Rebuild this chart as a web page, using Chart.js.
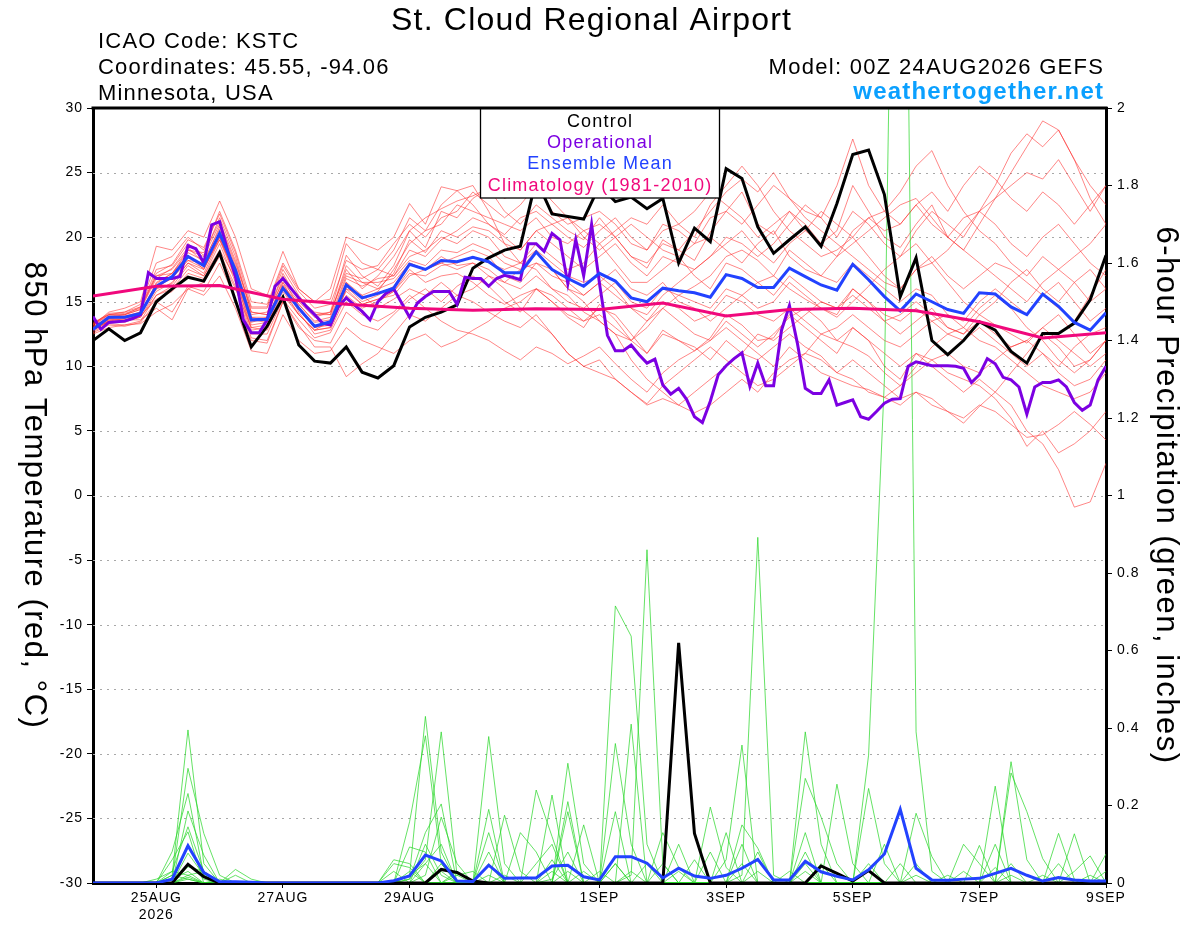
<!DOCTYPE html>
<html><head><meta charset="utf-8">
<script src="https://cdn.jsdelivr.net/npm/chart.js@4.4.1/dist/chart.umd.min.js"></script>
<style>html,body{margin:0;padding:0;background:#fff;}#wrap{width:1200px;height:927px;position:relative;}</style>
</head><body><div id="wrap"><canvas id="c" width="1200" height="927"></canvas></div>
<script>
const FONT = '"Liberation Sans", Arial, Helvetica, sans-serif';
const TITLE = 'St. Cloud Regional Airport';
const INFO_LINES = ['ICAO Code: KSTC', 'Coordinates: 45.55, -94.06', 'Minnesota, USA'];
const MODEL_LABEL = 'Model: 00Z 24AUG2026 GEFS';
const SITE_LABEL = 'weathertogether.net';
const LEGEND_LABELS = ['Control', 'Operational', 'Ensemble Mean', 'Climatology (1981-2010)'];
const Y_TITLE = '850 hPa Temperature (red, \u00B0C)';
const Y2_TITLE = '6-hour Precipitation (green, inches)';
const TICK_HOURS = [24, 72, 120, 192, 240, 288, 336, 384];
const TICK_LABELS = ['25AUG', '27AUG', '29AUG', '1SEP', '3SEP', '5SEP', '7SEP', '9SEP'];
const YEAR_LABEL = '2026';
const ENS_STEP_H = 6, OP_STEP_H = 3, CLIM_STEP_H = 24;

// Control run (black)
const CONTROL_T = [12.0,12.9,12.0,12.6,15.0,16.0,16.9,16.6,18.8,15.1,11.5,13.1,15.35,11.65,10.4,10.25,11.5,9.55,9.1,10.05,13.05,13.8,14.2,14.75,17.6,18.4,19.0,19.3,24.5,21.8,21.6,21.4,24.0,22.75,23.1,22.2,23.0,18.0,20.7,19.65,25.3,24.55,20.8,18.75,19.8,20.8,19.3,22.6,26.4,26.75,23.3,15.4,18.4,12.0,10.9,12.0,13.45,12.8,11.15,10.25,12.55,12.55,13.35,15.15,18.6];
const CONTROL_P = [0,0,0,0,0,0,0.048,0.016,0,0,0,0,0,0,0,0,0,0,0,0,0,0,0.035,0.027,0.005,0,0,0,0,0,0,0,0,0,0,0,0,0.62,0.128,0,0,0,0,0,0,0,0.044,0.025,0.005,0.032,0,0,0,0,0,0,0,0,0,0,0,0,0,0,0];
// Ensemble mean (blue)
const MEAN_T = [12.85,13.8,13.8,14.1,16.2,16.95,18.5,17.8,20.3,17.45,13.6,13.65,16.05,14.5,13.1,13.45,16.3,15.3,15.65,16.05,17.9,17.5,18.2,18.1,18.45,18.1,17.25,17.25,18.85,17.5,16.8,16.2,17.2,16.6,15.3,15.0,16.05,15.85,15.7,15.35,17.1,16.8,16.1,16.1,17.6,16.95,16.3,15.9,17.9,16.7,15.4,14.3,15.6,15.0,14.4,14.1,15.7,15.6,14.6,14.0,15.6,14.65,13.4,12.8,14.15];
const MEAN_P = [0,0,0,0,0,0.01,0.096,0.027,0.003,0.003,0.002,0,0,0,0,0,0,0,0,0.006,0.018,0.072,0.057,0.005,0.004,0.046,0.012,0.013,0.013,0.044,0.046,0.016,0.008,0.068,0.068,0.051,0.013,0.038,0.018,0.012,0.02,0.038,0.061,0.008,0.008,0.056,0.029,0.017,0.008,0.034,0.075,0.19,0.038,0.008,0.007,0.01,0.012,0.025,0.038,0.02,0.005,0.014,0.008,0.005,0.005];
// Operational run (purple, 3-hourly)
const OPER_T = [13.85,12.87,13.4,13.45,13.5,13.7,14.0,17.25,16.8,16.8,16.8,16.95,19.35,19.1,18.0,20.95,21.2,19.0,16.95,13.6,12.6,12.6,13.6,16.2,16.8,16.05,15.3,14.6,14.0,13.35,13.2,14.6,15.3,14.75,14.25,13.6,15.0,15.65,16.0,14.9,13.8,14.9,15.4,15.8,15.8,15.8,14.8,16.9,16.8,16.8,16.2,16.8,17.05,16.9,16.7,19.5,19.5,18.9,20.3,19.8,16.4,19.8,17.0,21.0,16.4,12.4,11.2,11.2,11.65,10.9,10.25,10.55,8.55,7.85,8.3,7.45,6.1,5.65,7.3,9.35,10.05,10.6,11.05,8.45,10.25,8.5,8.5,12.8,14.7,11.8,8.3,7.9,7.9,8.95,7.0,7.2,7.4,6.1,5.9,6.5,7.15,7.45,7.5,10.0,10.35,10.2,10.05,10.05,10.05,10.0,9.85,8.75,9.35,10.6,10.2,9.15,8.95,8.4,6.3,8.4,8.75,8.75,8.95,8.4,7.2,6.6,7.0,8.95,10.0];
// Climatology (pink, daily)
const CLIMATOLOGY = [15.45,16.2,16.25,15.2,14.8,14.5,14.35,14.45,14.4,14.9,13.9,14.4,14.5,14.3,13.45,12.2,12.6];

// Ensemble member 850 hPa temperatures (thin red)
const MEMBER_T_01 = [13.2,13.9,14.0,14.6,17.5,17.8,19.5,18.6,21.5,18.5,14.2,14.0,17.2,15.1,14.0,14.2,18.6,17.0,16.2,17.8,20.5,19.2,22.0,21.5,23.0,23.8,22.0,21.0,22.5,21.5,20.5,19.8,21.5,20.0,18.5,17.6,19.8,19.0,18.2,20.4,22.0,23.5,21.0,20.2,22.0,21.0,19.5,20.5,24.0,22.0,20.0,19.2,21.0,22.5,20.0,19.0,21.0,23.0,25.0,27.0,29.0,28.3,26.0,24.0,22.5];
const MEMBER_T_02 = [12.6,13.2,13.1,13.4,15.0,14.2,16.2,15.8,18.0,15.2,12.0,11.8,15.0,13.0,12.0,11.8,14.2,13.2,12.8,14.0,15.2,16.0,15.0,16.2,17.0,16.2,15.0,14.2,16.0,15.0,13.8,13.0,14.8,13.6,12.0,11.0,12.8,12.0,11.2,12.2,14.0,13.2,12.0,12.2,14.0,13.0,12.0,11.0,13.0,12.0,10.0,9.0,11.0,10.0,9.0,8.0,9.0,8.0,7.0,5.0,4.0,2.0,-0.9,-0.5,2.5];
const MEMBER_T_03 = [13.0,13.8,13.9,14.2,16.0,17.0,18.2,18.0,20.2,17.2,13.5,13.6,16.0,14.5,13.0,13.4,16.5,15.2,15.8,17.5,19.5,20.5,22.5,23.6,24.0,22.0,19.5,18.0,17.5,16.0,15.5,14.2,13.5,12.5,12.0,13.0,14.5,15.5,16.2,17.0,18.5,19.0,18.2,17.0,16.0,15.2,14.5,13.8,15.0,16.2,17.5,18.5,19.5,18.0,16.5,15.0,14.0,13.2,12.5,11.8,13.0,14.0,12.5,11.0,12.0];
const MEMBER_T_04 = [12.8,13.5,13.5,13.8,15.5,16.0,17.5,17.0,19.5,16.5,12.5,12.5,15.2,13.6,12.2,12.6,15.0,14.0,13.5,14.2,15.5,14.5,13.5,12.8,12.5,12.0,11.2,10.5,11.5,11.0,10.2,10.8,11.5,10.2,9.0,8.0,9.5,10.5,11.2,12.0,13.5,12.5,11.5,12.5,13.8,14.5,13.5,12.0,11.5,10.8,9.5,8.5,10.0,11.5,12.5,13.0,14.5,15.5,14.5,13.0,12.0,10.5,9.5,10.5,12.0];
const MEMBER_T_05 = [13.4,14.0,14.2,14.6,17.0,17.5,19.0,18.5,21.0,18.0,14.5,14.5,17.5,15.5,14.0,14.0,17.5,16.0,17.0,18.5,20.5,21.5,22.2,22.8,23.2,23.8,23.0,23.5,24.2,22.8,21.5,20.5,19.5,20.5,21.5,21.0,22.5,21.0,20.0,22.5,24.0,25.5,24.0,22.0,20.5,19.5,18.5,19.0,20.0,18.5,17.0,16.0,17.5,18.5,17.0,16.0,17.0,18.0,17.5,16.5,15.5,14.5,13.5,15.5,17.5];
const MEMBER_T_06 = [13.0,13.4,13.6,13.6,14.5,13.6,16.0,16.5,18.5,16.0,13.0,12.8,15.5,14.0,12.8,13.0,16.0,15.5,14.5,15.2,16.0,15.5,16.5,15.5,15.0,14.2,13.5,13.0,14.0,12.5,11.0,10.0,10.5,9.0,8.0,7.0,7.5,7.0,6.4,7.0,8.0,9.0,8.0,9.5,10.5,11.0,12.5,13.0,14.0,13.0,12.0,11.5,12.5,13.5,14.0,13.0,12.0,11.5,10.5,9.5,8.5,8.0,7.5,8.0,9.5];
const MEMBER_T_07 = [13.1,13.7,13.8,14.0,16.5,17.2,18.8,18.2,20.6,17.6,13.8,13.8,16.2,14.8,13.4,13.6,16.8,16.2,16.8,17.0,19.0,18.5,19.8,20.5,21.5,21.0,20.2,21.5,22.0,21.0,20.0,19.2,20.5,21.5,20.0,19.0,21.0,20.5,19.5,21.5,22.0,21.0,22.5,24.0,23.0,22.0,21.5,24.0,27.6,24.0,22.0,23.5,25.5,26.7,24.0,22.0,20.5,19.5,18.0,17.0,18.5,17.5,16.5,15.0,16.0];
const MEMBER_T_08 = [12.7,13.3,13.2,13.5,15.5,16.2,17.8,17.0,19.0,16.8,12.8,13.0,16.5,14.2,12.5,12.8,15.5,14.5,15.0,15.8,17.5,16.5,17.0,17.2,16.5,15.5,14.8,15.5,16.0,15.0,14.0,13.5,14.5,14.0,12.5,11.0,12.5,12.0,11.5,10.5,12.0,11.0,10.5,11.5,12.5,11.5,10.8,9.5,10.5,9.5,8.5,7.5,8.0,7.0,6.5,5.6,6.9,8.0,9.5,11.0,12.5,11.5,10.0,10.5,12.0];
const MEMBER_T_09 = [13.3,14.1,14.2,14.8,18.0,18.5,20.0,19.0,22.0,19.0,15.0,14.8,18.0,16.0,15.0,15.2,19.5,18.0,17.5,19.0,21.5,20.5,21.0,22.5,22.0,21.5,21.0,20.5,21.5,20.0,19.5,20.5,21.0,20.0,18.5,18.0,19.5,19.0,20.5,22.0,23.5,24.5,23.5,25.0,23.0,21.5,20.5,19.5,18.5,17.5,16.5,16.0,17.5,18.0,19.0,20.5,22.0,21.0,19.5,18.5,20.0,21.0,19.5,18.0,17.0];
const MEMBER_T_10 = [12.9,13.5,13.4,13.9,15.2,15.8,17.2,16.8,18.8,16.2,12.2,12.0,15.0,13.2,11.5,11.5,9.2,10.2,11.0,12.5,14.0,13.5,14.5,15.5,16.0,17.0,16.5,17.5,18.0,17.0,16.5,15.5,16.5,17.5,16.0,15.5,16.5,15.0,14.5,13.5,14.5,15.5,16.5,15.5,17.0,16.0,15.0,14.5,16.0,15.0,13.5,12.5,13.5,14.5,13.0,12.5,14.0,15.0,16.5,17.5,16.0,15.0,16.5,17.5,16.0];
const MEMBER_T_11 = [13.2,14.2,14.5,15.0,19.3,19.0,20.5,20.0,22.8,20.0,16.0,15.5,18.9,16.0,15.0,16.0,20.0,19.5,19.0,20.0,22.6,21.0,23.9,23.6,22.5,21.0,20.0,19.0,20.5,19.5,18.5,17.5,18.5,19.5,18.0,17.0,18.5,18.0,17.5,18.5,19.5,20.5,19.0,18.0,19.5,20.5,22.0,21.0,20.0,21.5,22.0,21.0,22.5,21.0,20.0,21.5,22.0,23.0,24.0,25.0,24.5,26.0,24.0,22.0,24.0];
const MEMBER_T_12 = [12.8,13.4,13.5,13.8,15.8,16.5,18.0,17.5,20.0,17.0,13.2,13.4,16.0,14.0,12.8,13.0,16.0,14.8,15.2,15.5,17.0,17.5,18.5,17.8,18.0,17.0,16.0,14.5,13.5,12.5,11.0,10.0,9.5,9.0,8.0,7.1,8.5,9.5,10.5,11.5,10.5,9.5,8.5,9.0,10.0,11.0,10.5,9.5,9.0,8.0,7.6,7.0,8.0,7.5,6.5,6.0,7.0,6.5,5.5,4.5,4.7,5.5,6.5,5.5,4.3];
const MEMBER_T_13 = [13.1,13.8,14.0,14.4,16.8,17.6,19.2,18.0,20.8,17.8,14.0,14.2,16.5,15.0,13.8,14.2,17.2,16.8,17.5,17.0,18.5,19.0,20.0,19.5,20.5,20.0,18.5,18.0,19.5,18.5,17.5,18.0,19.5,18.0,16.5,16.5,17.5,18.5,17.0,16.0,18.0,17.5,16.5,17.0,19.0,18.0,17.0,16.5,18.0,17.0,16.0,15.0,16.0,15.5,14.0,13.5,15.0,16.0,15.0,14.0,15.5,16.5,15.0,13.5,14.5];
const MEMBER_T_14 = [12.5,13.0,13.2,13.3,14.2,14.8,16.0,15.5,17.0,14.5,11.2,11.0,14.0,12.0,11.0,11.2,13.0,12.0,11.5,11.0,12.0,12.5,11.5,12.0,12.8,13.5,14.5,15.0,16.0,15.5,14.5,13.5,14.0,13.0,12.0,13.5,14.5,13.5,12.5,12.0,13.0,12.0,11.0,10.0,11.5,10.5,9.5,9.0,8.5,8.2,7.6,8.5,9.5,10.5,11.0,10.0,9.5,10.5,11.5,12.0,11.0,10.0,11.5,12.5,13.0];
const MEMBER_T_15 = [13.0,13.6,13.7,14.1,16.2,16.8,18.5,17.8,20.4,17.5,13.8,13.5,16.8,14.6,13.2,13.2,16.2,15.0,15.5,16.2,18.0,17.5,18.0,18.5,19.0,18.5,17.0,16.5,18.0,17.5,16.0,15.5,16.5,15.5,14.5,14.0,15.5,16.5,17.5,18.5,20.0,19.5,18.5,19.5,21.0,22.5,21.5,20.0,22.0,21.0,19.5,18.5,20.5,22.0,21.0,20.0,22.0,24.0,26.5,28.0,27.0,28.3,26.0,23.0,21.0];
const MEMBER_T_16 = [12.9,13.6,13.6,14.0,16.0,16.4,18.0,17.2,19.8,16.8,13.0,13.2,15.8,14.0,12.8,13.5,15.8,14.8,15.2,15.8,17.2,17.0,17.8,18.0,18.5,18.0,17.5,18.0,19.0,18.0,17.0,16.5,17.0,16.0,14.5,13.5,15.0,14.5,13.5,14.0,15.5,15.0,14.0,13.5,14.5,13.5,12.5,12.0,13.0,12.0,11.0,10.0,11.0,10.5,9.5,9.0,8.5,7.5,6.0,3.8,5.0,3.3,4.0,5.0,6.5];
const MEMBER_T_17 = [13.2,14.0,14.1,14.5,17.2,17.9,19.8,19.2,21.8,18.8,14.6,14.6,17.8,15.8,14.5,14.8,18.2,17.5,17.8,19.5,21.0,20.0,21.5,22.0,23.5,22.5,21.5,22.5,24.0,22.0,21.0,21.5,22.0,21.0,19.5,19.0,20.5,21.0,22.0,23.5,22.5,21.5,20.0,21.0,22.0,20.5,19.5,18.5,19.5,20.5,21.5,22.5,23.0,21.5,20.0,19.0,18.0,17.0,16.0,15.0,16.5,17.5,18.5,19.5,21.0];
const MEMBER_T_18 = [13.0,13.7,13.8,14.2,16.4,17.2,18.6,17.5,20.0,17.0,13.4,13.8,16.3,14.8,13.5,13.8,17.0,16.5,16.5,16.8,18.2,17.8,19.0,18.8,19.5,19.0,18.0,17.5,19.0,17.5,16.0,15.0,13.5,12.5,10.5,9.0,8.0,7.0,8.0,9.0,10.0,11.0,12.5,12.0,13.0,14.0,15.0,14.5,15.5,14.5,13.5,14.0,15.0,14.0,13.0,12.5,13.5,12.5,11.5,12.0,13.0,12.0,11.0,10.0,11.0];
const MEMBER_T_19 = [13.3,14.0,14.0,14.4,17.0,17.2,19.0,18.8,21.2,18.2,14.2,14.0,17.0,15.2,14.2,14.0,17.8,16.5,16.0,17.2,19.8,18.8,20.5,20.0,20.8,20.5,19.5,19.0,20.5,21.0,21.5,20.0,19.0,20.0,21.0,20.0,19.0,18.5,19.5,20.0,19.0,18.0,19.5,20.5,18.5,17.5,17.0,18.5,20.5,21.5,20.5,21.0,22.5,23.5,22.0,24.0,25.5,24.5,23.0,22.0,23.5,22.5,21.0,22.5,24.0];
const MEMBER_T_20 = [12.9,13.5,13.7,14.0,16.2,16.8,18.2,17.6,19.8,17.2,13.6,13.4,16.2,14.4,13.0,13.2,16.5,15.5,16.0,16.5,18.0,17.5,18.0,17.5,18.0,17.5,16.5,16.0,17.0,16.0,15.0,14.5,15.5,16.5,15.0,14.5,16.0,15.5,15.0,14.5,16.0,15.5,14.5,15.0,16.5,15.5,14.5,14.0,16.0,15.0,14.0,13.5,14.5,13.5,12.5,12.0,13.0,12.0,11.0,10.0,11.0,9.5,8.5,9.0,10.5];
const MEMBERS_T = [MEMBER_T_01,MEMBER_T_02,MEMBER_T_03,MEMBER_T_04,MEMBER_T_05,MEMBER_T_06,MEMBER_T_07,MEMBER_T_08,MEMBER_T_09,MEMBER_T_10,MEMBER_T_11,MEMBER_T_12,MEMBER_T_13,MEMBER_T_14,MEMBER_T_15,MEMBER_T_16,MEMBER_T_17,MEMBER_T_18,MEMBER_T_19,MEMBER_T_20];

// Ensemble member 6-hour precipitation (thin green)
const MEMBER_P_01 = [0,0,0,0,0,0,0.01,0, 0,0,0,0,0,0,0,0, 0,0,0,0,0,0.10,0.02,0, 0,0,0,0,0,0.06,0,0, 0,0.05,0,0,0,0,0,0, 0,0,0.08,0,0,0,0,0, 0,0.33,1.3,3.9,0.39,0.03,0,0, 0,0,0.05,0,0,0,0,0, 0];
const MEMBER_P_02 = [0,0,0,0,0,0.02,0.395,0.05, 0,0,0,0,0,0,0,0, 0,0,0,0,0.02,0.43,0.08,0, 0,0,0,0,0,0.01,0.08,0, 0,0,0.02,0.86,0.05,0,0,0, 0,0,0,0,0,0.05,0,0, 0,0,0,0,0,0,0,0, 0,0.1,0,0,0,0,0,0, 0];
const MEMBER_P_03 = [0,0,0,0,0,0.01,0.296,0.128, 0.02,0,0,0,0,0,0,0, 0,0,0,0,0.01,0.06,0.39,0.02, 0,0,0,0,0,0,0,0, 0,0.36,0.1,0,0,0,0,0, 0,0.02,0.892,0.02,0,0,0,0, 0,0,0,0,0,0,0,0, 0,0,0,0,0,0.128,0.01,0, 0];
const MEMBER_P_04 = [0,0,0,0,0,0.081,0.231,0.02, 0,0,0,0,0,0,0,0, 0,0,0,0,0.158,0.38,0.05,0, 0,0.13,0,0,0,0,0,0, 0,0.715,0.637,0.1,0,0,0,0, 0,0,0,0,0,0.39,0.1,0, 0,0,0,0,0,0,0,0, 0,0,0,0,0,0,0,0, 0];
const MEMBER_P_05 = [0,0,0,0,0,0,0.186,0.072, 0,0,0,0,0,0,0,0, 0,0,0,0,0.01,0.13,0.204,0, 0,0,0,0,0.24,0.12,0,0, 0,0,0,0,0,0,0,0, 0.06,0.356,0,0,0,0,0,0, 0,0,0,0,0,0,0,0, 0,0,0.313,0.06,0,0,0,0, 0];
const MEMBER_P_06 = [0,0,0,0,0.01,0.03,0.145,0.03, 0,0,0,0,0,0,0,0, 0,0,0,0,0,0.02,0.17,0.05, 0,0.378,0.05,0,0,0,0,0, 0,0,0.41,0,0,0,0,0, 0,0,0,0,0,0.27,0.17,0.05, 0,0,0,0,0,0,0,0, 0,0.25,0,0,0,0,0,0, 0];
const MEMBER_P_07 = [0,0,0,0,0,0.06,0.132,0, 0,0,0,0,0,0,0,0, 0,0,0,0,0.093,0.08,0,0, 0,0.19,0,0,0,0,0.309,0.05, 0,0,0,0,0,0,0,0.196, 0.04,0,0,0,0,0,0,0, 0,0,0,0,0.18,0.068,0,0, 0,0,0,0,0,0,0.127,0, 0];
const MEMBER_P_08 = [0,0,0,0,0,0,0.077,0.02, 0,0.035,0.01,0,0,0,0,0, 0,0,0,0.06,0.05,0,0,0, 0,0,0.175,0.03,0,0,0.21,0, 0,0,0,0,0,0,0,0, 0,0,0,0,0,0,0,0.255, 0.05,0,0,0,0,0,0,0, 0,0,0.284,0.184,0.063,0,0,0, 0];
const MEMBER_P_09 = [0,0,0,0,0,0,0.042,0.03, 0,0,0,0,0,0,0,0, 0,0,0,0,0,0.05,0.1,0, 0,0,0,0,0,0.227,0,0, 0,0,0,0,0,0.10,0,0, 0,0.15,0.09,0,0,0,0,0, 0,0.244,0.05,0,0,0,0,0, 0,0,0,0,0,0,0,0, 0.075];
const MEMBER_P_10 = [0,0,0,0,0,0.03,0.02,0, 0,0,0,0,0,0,0,0, 0,0,0,0.05,0.04,0,0,0, 0,0,0,0.13,0.08,0,0,0.15, 0,0.184,0,0,0,0,0,0, 0,0.1,0,0,0,0.13,0,0, 0,0,0,0,0,0,0,0.10, 0.05,0,0,0,0,0,0,0, 0];
const MEMBER_P_11 = [0,0,0,0,0,0,0.02,0.03, 0,0,0,0,0,0,0,0, 0,0,0,0,0.03,0,0.05,0, 0,0.08,0,0,0,0,0.184,0, 0,0,0,0,0.13,0.04,0,0, 0,0,0,0,0,0.08,0,0, 0,0,0.10,0,0,0,0,0, 0.097,0,0,0,0,0.05,0,0, 0];
const MEMBER_P_12 = [0,0,0,0,0,0.02,0.01,0, 0,0.02,0,0,0,0,0,0, 0,0,0,0.03,0,0,0,0.03, 0,0.05,0,0,0.05,0.1,0,0, 0,0,0,0.05,0,0,0,0.08, 0,0,0,0,0,0,0.05,0, 0,0,0,0,0,0,0,0.03, 0,0,0,0,0,0,0.03,0.07, 0];
const MEMBER_P_13 = [0,0,0,0,0,0,0.015,0, 0.01,0,0,0,0,0,0,0, 0,0,0,0,0,0,0,0.02, 0.03,0,0.02,0,0,0,0,0, 0.03,0,0,0,0,0,0.06,0, 0.13,0,0,0,0.03,0,0,0, 0,0,0,0.05,0,0,0.02,0, 0,0,0,0,0,0,0,0, 0.03];
const MEMBER_P_14 = [0,0,0,0,0,0,0.05,0.01, 0,0,0,0,0,0,0,0, 0,0,0,0,0.02,0.05,0,0, 0,0,0,0,0,0.03,0,0.03, 0,0.05,0,0,0.05,0,0,0, 0,0.05,0,0,0,0,0,0, 0,0.05,0,0,0.05,0,0,0, 0,0.04,0,0,0.02,0,0,0, 0];
const MEMBER_P_15 = [0,0,0,0,0,0.01,0.03,0, 0,0,0,0,0,0,0,0, 0,0,0,0,0,0,0.03,0, 0,0.02,0,0,0,0,0.03,0, 0,0,0.03,0,0,0.03,0,0, 0,0,0.03,0,0,0.03,0,0, 0,0,0,0,0.02,0,0,0, 0,0,0.02,0,0,0,0,0.02, 0];
const MEMBERS_P = [MEMBER_P_01,MEMBER_P_02,MEMBER_P_03,MEMBER_P_04,MEMBER_P_05,MEMBER_P_06,MEMBER_P_07,MEMBER_P_08,MEMBER_P_09,MEMBER_P_10,MEMBER_P_11,MEMBER_P_12,MEMBER_P_13,MEMBER_P_14,MEMBER_P_15];

const COL = {
  control: '#000000', oper: '#7c00e2', mean: '#2242ff', clim: '#f0087c',
  memberT: 'rgba(255,45,45,0.72)', memberP: 'rgba(40,215,40,0.9)', site: '#0aa0ff', grid: '#a8a8a8'
};

const pts = (arr, step) => arr.map((v, i) => ({ x: i * step, y: v }));
const line = (label, data, color, width, axis, order) => ({
  label, data, borderColor: color, backgroundColor: color, borderWidth: width,
  yAxisID: axis, order, pointRadius: 0, tension: 0, fill: false
});

const datasets = [
  line('Climatology (1981-2010)', pts(CLIMATOLOGY, CLIM_STEP_H), COL.clim, 3, 'y', 1),
  line('Ensemble Mean', pts(MEAN_T, ENS_STEP_H), COL.mean, 3, 'y', 2),
  line('Ensemble Mean precip', pts(MEAN_P, ENS_STEP_H), COL.mean, 3, 'y2', 2),
  line('Operational', pts(OPER_T, OP_STEP_H), COL.oper, 3, 'y', 3),
  line('Control', pts(CONTROL_T, ENS_STEP_H), COL.control, 3, 'y', 4),
  line('Control precip', pts(CONTROL_P, ENS_STEP_H), COL.control, 3, 'y2', 4)
];
MEMBERS_P.forEach((m, k) => datasets.push(line('Member precip ' + (k + 1), pts(m, ENS_STEP_H), COL.memberP, 0.8, 'y2', 9)));
MEMBERS_T.forEach((m, k) => datasets.push(line('Member T ' + (k + 1), pts(m, ENS_STEP_H), COL.memberT, 0.8, 'y', 10)));

function spacedText(ctx, text, x, y, font, color, align, spacing) {
  ctx.save();
  ctx.font = font; ctx.fillStyle = color; ctx.textAlign = align; ctx.textBaseline = 'alphabetic';
  ctx.letterSpacing = spacing + 'px';
  let dx = 0;
  if (align === 'right') dx = spacing;
  if (align === 'center') dx = spacing / 2;
  ctx.fillText(text, x + dx, y);
  ctx.restore();
}

const decor = {
  id: 'decor',
  beforeDraw(chart) {
    chart.ctx.letterSpacing = '1px';
  },
  beforeDatasetsDraw(chart) {
    const { ctx, chartArea: a, scales: { y } } = chart;
    ctx.save();
    ctx.strokeStyle = COL.grid; ctx.lineWidth = 1; ctx.setLineDash([2, 5]);
    y.ticks.forEach(t => {
      if (t.value <= y.min || t.value >= y.max) return;
      const py = Math.round(y.getPixelForValue(t.value)) + 0.5;
      ctx.beginPath(); ctx.moveTo(a.left, py); ctx.lineTo(a.right, py); ctx.stroke();
    });
    ctx.restore();
  },
  afterDatasetsDraw(chart) {
    const { ctx } = chart;
    const bx = 480, by = 108, bw = 239, bh = 90;
    ctx.save();
    ctx.fillStyle = '#fff'; ctx.fillRect(bx, by, bw, bh);
    ctx.strokeStyle = '#000'; ctx.lineWidth = 1.3; ctx.strokeRect(bx + 0.5, by, bw, bh);
    const cols = [COL.control, COL.oper, COL.mean, COL.clim];
    const ys = [127, 148, 169, 191];
    LEGEND_LABELS.forEach((t, k) => spacedText(ctx, t, bx + bw / 2, ys[k], '18px ' + FONT, cols[k], 'center', 1.2));
    ctx.restore();
  },
  afterDraw(chart) {
    const { ctx, chartArea: a } = chart;
    ctx.save();
    ctx.strokeStyle = '#000'; ctx.lineWidth = 3;
    ctx.beginPath(); ctx.moveTo(a.left - 1.5, a.top); ctx.lineTo(a.right + 1.5, a.top); ctx.stroke();
    spacedText(ctx, TITLE, 591, 30, '32px ' + FONT, '#000', 'center', 1.2);
    INFO_LINES.forEach((t, k) => spacedText(ctx, t, 98, 48 + k * 26, '22px ' + FONT, '#000', 'left', 1.2));
    spacedText(ctx, MODEL_LABEL, 1103, 74, '22px ' + FONT, '#000', 'right', 1.3);
    spacedText(ctx, SITE_LABEL, 1103, 99, 'bold 24px ' + FONT, COL.site, 'right', 1.2);
    const mid = (a.top + a.bottom) / 2;
    [[Y_TITLE, 34], [Y2_TITLE, 1166]].forEach(([t, x]) => {
      ctx.save();
      ctx.translate(x, mid); ctx.rotate(Math.PI / 2);
      ctx.font = '31px ' + FONT; ctx.fillStyle = '#000';
      ctx.textAlign = 'center'; ctx.textBaseline = 'middle'; ctx.letterSpacing = '1.5px';
      ctx.fillText(t, 0, 0);
      ctx.restore();
    });
    ctx.restore();
  }
};

const tickFont = { family: FONT, size: 14 };
new Chart(document.getElementById('c'), {
  type: 'line',
  data: { datasets },
  options: {
    responsive: false, animation: false, events: [],
    layout: { padding: { top: 108, left: 0, right: 0, bottom: 0 } },
    plugins: { legend: { display: false }, tooltip: { enabled: false }, title: { display: false } },
    elements: { line: { borderJoinStyle: 'miter', borderCapStyle: 'butt' } },
    scales: {
      x: {
        type: 'linear', position: 'bottom', min: 0, max: 384, z: 1,
        afterBuildTicks: s => { s.ticks = TICK_HOURS.map(v => ({ value: v })); },
        afterFit: s => { s.height = 44; },
        ticks: {
          autoSkip: false, maxRotation: 0, minRotation: 0, padding: 2, color: '#000', font: tickFont,
          callback: v => { const k = TICK_HOURS.indexOf(v); return k === 0 ? [TICK_LABELS[0], YEAR_LABEL] : TICK_LABELS[k]; }
        },
        grid: { display: true, drawOnChartArea: false, drawTicks: true, tickLength: 5, tickColor: '#000', tickWidth: 1 },
        border: { display: true, color: '#000', width: 3 }
      },
      y: {
        type: 'linear', position: 'left', min: -30, max: 30, z: 1,
        afterFit: s => { s.width = 93; },
        ticks: { stepSize: 5, color: '#000', font: tickFont, padding: 4 },
        grid: { display: true, drawOnChartArea: false, drawTicks: true, tickLength: 6, tickColor: '#000', tickWidth: 1 },
        border: { display: true, color: '#000', width: 3 }
      },
      y2: {
        type: 'linear', position: 'right', min: 0, max: 2, z: 1,
        afterFit: s => { s.width = 94; },
        ticks: { stepSize: 0.2, color: '#000', font: tickFont, padding: 5,
          callback: v => String(Number(v.toFixed(1))) },
        grid: { display: true, drawOnChartArea: false, drawTicks: true, tickLength: 6, tickColor: '#000', tickWidth: 1 },
        border: { display: true, color: '#000', width: 3 }
      }
    }
  },
  plugins: [decor]
});
</script></body></html>
